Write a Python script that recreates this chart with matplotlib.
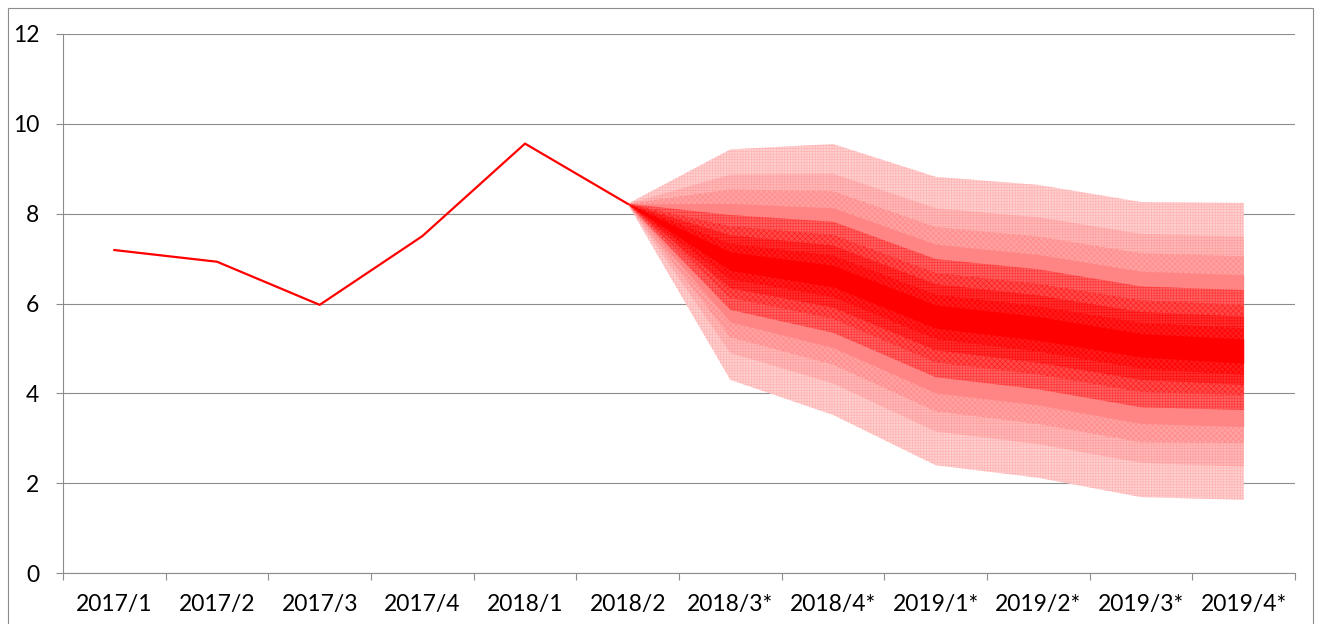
import matplotlib.pyplot as plt
import numpy as np
from matplotlib.patches import Rectangle

categories = ["2017/1", "2017/2", "2017/3", "2017/4", "2018/1", "2018/2",
              "2018/3*", "2018/4*", "2019/1*", "2019/2*", "2019/3*", "2019/4*"]
actual = [7.19, 6.93, 5.97, 7.50, 9.56, 8.22]

# fan chart: 2018/2 .. 2019/4*, bands from innermost to outermost
fan_upper = [
    [8.22, 7.15, 6.85, 5.97, 5.71, 5.33, 5.21],
    [8.22, 7.33, 7.07, 6.20, 5.94, 5.57, 5.45],
    [8.22, 7.52, 7.29, 6.43, 6.18, 5.81, 5.71],
    [8.22, 7.72, 7.53, 6.68, 6.44, 6.07, 5.97],
    [8.22, 7.97, 7.82, 6.99, 6.76, 6.38, 6.30],
    [8.22, 8.23, 8.13, 7.32, 7.09, 6.72, 6.64],
    [8.22, 8.54, 8.50, 7.70, 7.49, 7.12, 7.05],
    [8.22, 8.87, 8.89, 8.12, 7.92, 7.55, 7.49],
    [8.22, 9.43, 9.55, 8.82, 8.64, 8.26, 8.24],
]
fan_lower = [
    [8.22, 6.74, 6.37, 5.45, 5.18, 4.81, 4.67],
    [8.22, 6.54, 6.14, 5.21, 4.93, 4.55, 4.41],
    [8.22, 6.34, 5.91, 4.96, 4.68, 4.30, 4.19],
    [8.22, 6.13, 5.66, 4.69, 4.42, 4.03, 3.96],
    [8.22, 5.86, 5.35, 4.36, 4.09, 3.69, 3.63],
    [8.22, 5.59, 5.02, 4.01, 3.74, 3.33, 3.26],
    [8.22, 5.25, 4.64, 3.60, 3.32, 2.91, 2.89],
    [8.22, 4.90, 4.22, 3.15, 2.87, 2.45, 2.37],
    [8.22, 4.30, 3.52, 2.40, 2.12, 1.69, 1.63],
]

# (face, hatch colour, hatch) innermost -> outermost
band_styles = [
    ("#ff0000", "#ff0000", None),
    ("#ff1c1c", "#ff0000", "xxxxxx"),
    ("#ff3232", "#ff1010", "++++++"),
    ("#ff4a4a", "#ff2020", "xxxxxx"),
    ("#ff6464", "#ff3a3a", "++++++"),
    ("#ff8585", "#ff8585", None),
    ("#ffa2a2", "#ff8a8a", "xxxxxx"),
    ("#ffbaba", "#ffa0a0", "++++++"),
    ("#ffd2d2", "#ffb4b4", "++++++"),
]

plt.rcParams["hatch.linewidth"] = 0.5

fig = plt.figure(figsize=(13.2, 6.24), dpi=100)
ax = fig.add_axes([63 / 1320, 1 - 573 / 624, (1295 - 63) / 1320, (573 - 34) / 624])

x_all = np.arange(len(categories))
x_fan = x_all[5:]

for k in range(len(fan_upper) - 1, -1, -1):
    face, hcol, hatch = band_styles[k]
    ax.fill_between(x_fan, fan_lower[k], fan_upper[k], facecolor=face,
                    edgecolor=hcol, hatch=hatch, linewidth=0, zorder=2)

ax.plot(x_all[:len(actual)], actual, color="#ff0000", lw=1.6, zorder=3)

grey = "#8c8c8c"
ax.set_xlim(-0.5, 11.5)
ax.set_ylim(0, 12)
ax.set_yticks(np.arange(0, 13, 2))
ax.grid(axis="y", color=grey, lw=0.8, zorder=0)
ax.set_axisbelow(True)

ax.set_xticks(np.arange(-0.5, 12, 1))
ax.set_xticklabels([])
ax.set_xticks(x_all, minor=True)
ax.set_xticklabels(categories, minor=True, fontsize=16.5,
                   family=["Lato", "DejaVu Sans"])
ax.tick_params(axis="x", which="major", length=5, color=grey, width=0.8, direction="out")
ax.tick_params(axis="x", which="minor", length=0, pad=15)
ax.tick_params(axis="y", length=5, color=grey, width=0.8, pad=12, labelsize=16.5)
for lab in ax.get_yticklabels():
    lab.set_family(["Lato", "DejaVu Sans"])

for s in ["top", "right"]:
    ax.spines[s].set_visible(False)
for s in ["left", "bottom"]:
    ax.spines[s].set_color(grey)
    ax.spines[s].set_linewidth(0.8)

fig.patches.append(Rectangle((8 / 1320, -0.02), (1313 - 8) / 1320, 1.02 - 8 / 624,
                             transform=fig.transFigure, fill=False,
                             edgecolor=grey, lw=0.8))

fig.savefig("out.png", dpi=100)
